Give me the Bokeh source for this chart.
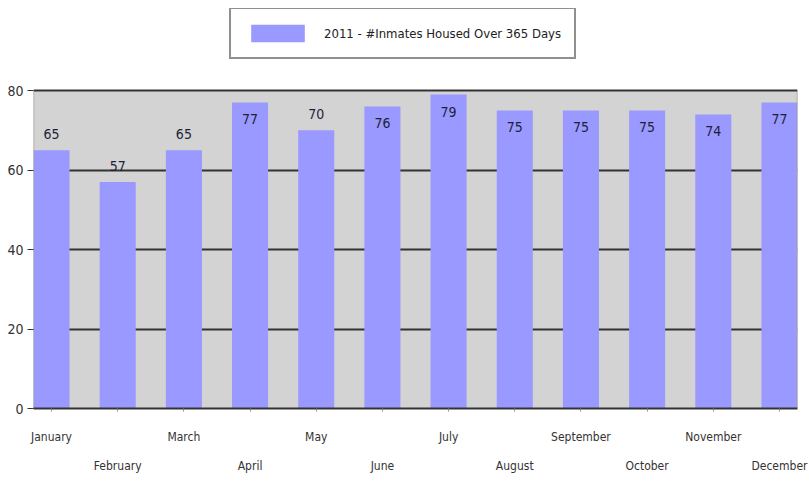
from bokeh.plotting import figure
from bokeh.models import (ColumnDataSource, FixedTicker, LinearAxis, Legend,
                          LegendItem, Range1d)
from bokeh.core.properties import value
from bokeh.embed import file_html
from bokeh.resources import INLINE

months = ["January", "February", "March", "April", "May", "June", "July",
          "August", "September", "October", "November", "December"]
values = [65, 57, 65, 77, 70, 76, 79, 75, 75, 75, 74, 77]
yticks = [0, 20, 40, 60, 80]
series_name = "2011 - #Inmates Housed Over 365 Days"

FONT = "DejaVu Sans Condensed"
BAR = "#9999ff"
DARK = "#333333"

xs = list(range(len(months)))
src = ColumnDataSource(dict(x=xs, top=values))

inside_thr = 72
above = [i for i, v in enumerate(values) if v <= inside_thr]
inside = [i for i, v in enumerate(values) if v > inside_thr]
src_above = ColumnDataSource(dict(x=[xs[i] for i in above], y=[values[i] for i in above],
                                  t=[str(values[i]) for i in above]))
src_inside = ColumnDataSource(dict(x=[xs[i] for i in inside], y=[values[i] for i in inside],
                                   t=[str(values[i]) for i in inside]))

bw = 0.545
x0, x1 = xs[0] - bw / 2, xs[-1] + bw / 2
ymax = yticks[-1]
head = 1.258  # extra room above the plot area for the legend
p = figure(width=809, height=482,
           x_range=Range1d(x0, x1),
           y_range=Range1d(yticks[0], ymax * head),
           output_backend="svg", toolbar_location=None,
           min_border_left=33, min_border_right=12, min_border_top=8, min_border_bottom=74)
p.background_fill_color = "white"
p.border_fill_color = "white"
p.outline_line_color = None

# gray plot area
p.quad(left=[x0], right=[x1], bottom=[yticks[0]], top=[ymax],
       fill_color="#d3d3d3", line_color=None, level="image")

r = p.vbar(x="x", top="top", width=bw, source=src, fill_color=BAR, line_color=None)

p.text(x="x", y="y", text="t", source=src_above, text_align="center",
       text_baseline="bottom", y_offset=-11, text_font=value(FONT),
       text_font_size="14px", text_color="#1f1f3a")
p.text(x="x", y="y", text="t", source=src_inside, text_align="center",
       text_baseline="top", y_offset=12, text_font=value(FONT),
       text_font_size="14px", text_color="#1f1f3a")

# frame edges
p.segment(x0=[x0, x1], y0=[yticks[0]] * 2, x1=[x0, x1], y1=[ymax] * 2,
          line_color="#a0a0a0", line_width=1.5)
p.segment(x0=[x0], y0=[ymax], x1=[x1], y1=[ymax], line_color=DARK, line_width=2)

p.xgrid.grid_line_color = None
p.ygrid.ticker = FixedTicker(ticks=yticks[1:-1])
p.ygrid.grid_line_color = DARK
p.ygrid.grid_line_width = 2

ya = p.yaxis[0]
ya.ticker = FixedTicker(ticks=yticks)
ya.axis_line_color = None
ya.major_tick_line_color = DARK
ya.major_tick_out = 6
ya.major_tick_in = 0
ya.minor_tick_line_color = None
ya.major_label_standoff = 4
ya.major_label_text_font = FONT
ya.major_label_text_font_size = "14px"
ya.major_label_text_color = DARK

xa = p.xaxis[0]
xa.ticker = FixedTicker(ticks=xs)
xa.major_label_overrides = {x: (m if x % 2 == 0 else " ") for x, m in zip(xs, months)}
xa.axis_line_color = DARK
xa.axis_line_width = 2
xa.major_tick_line_color = "#888888"
xa.major_tick_out = 3
xa.major_tick_in = 0
xa.minor_tick_line_color = None
xa.major_label_standoff = 18
xa.major_label_text_font = FONT
xa.major_label_text_font_size = "12px"
xa.major_label_text_color = DARK

odd = [x for x in xs if x % 2 == 1]
xa2 = LinearAxis(ticker=FixedTicker(ticks=odd),
                 major_label_overrides={x: months[x] for x in odd})
xa2.axis_line_color = None
xa2.major_tick_line_color = None
xa2.minor_tick_line_color = None
xa2.major_tick_out = 0
xa2.major_tick_in = 0
xa2.major_label_standoff = 12
xa2.major_label_text_font = FONT
xa2.major_label_text_font_size = "12px"
xa2.major_label_text_color = DARK
p.add_layout(xa2, "below")

legend = Legend(items=[LegendItem(label=series_name, renderers=[r])],
                location=(196, 349), orientation="horizontal")
legend.glyph_width = 67
legend.glyph_height = 22
legend.label_height = 22
legend.label_standoff = 13
legend.padding = 13
legend.margin = 0
legend.border_line_color = "#222222"
legend.border_line_width = 2
legend.background_fill_color = "white"
legend.label_text_font = FONT
legend.label_text_font_size = "13px"
legend.label_text_color = "#222222"
p.add_layout(legend, "center")

open("out.html", "w").write(file_html(p, INLINE))
